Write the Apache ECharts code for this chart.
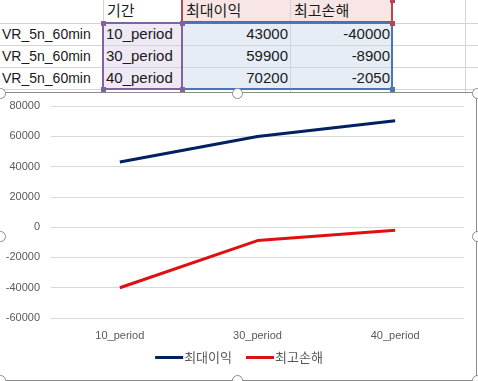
<!DOCTYPE html>
<html><head><meta charset="utf-8">
<script src="https://cdn.jsdelivr.net/npm/echarts@6/dist/echarts.min.js"></script>
<style>
html,body{margin:0;padding:0;width:478px;height:381px;overflow:hidden;background:#fff;font-family:"Liberation Sans","Noto Sans CJK KR",sans-serif;}
#sheet{position:absolute;left:0;top:0;width:478px;height:93px;}
.cell{position:absolute;font-size:15px;line-height:22px;color:#1a1a1a;white-space:nowrap;box-sizing:border-box;padding:0 2px;}
.hl{position:absolute;height:1px;background:#d4d4d4;}
.vl{position:absolute;width:1px;background:#d4d4d4;}
#chart{position:absolute;left:0;top:93px;width:478px;height:288px;}
.frame{position:absolute;border:1.5px solid #8c8c8c;}
.handle{position:absolute;width:11px;height:11px;border-radius:50%;border:1.5px solid #8c8c8c;background:#fff;box-sizing:border-box;}
.sq{position:absolute;width:5px;height:5px;}
</style></head>
<body>
<div id="sheet"></div>
<div id="chart"></div>
<script>
const strategy = ["VR_5n_60min","VR_5n_60min","VR_5n_60min"];
const periods = ["10_period","30_period","40_period"];
const seriesNames = ["최대이익","최고손해"];
const headerLabel = "기간";
const maxProfit = [43000,59900,70200];
const maxLoss = [-40000,-8900,-2050];

// spreadsheet
const sheet = document.getElementById('sheet');
function add(html){ sheet.insertAdjacentHTML('beforeend', html); }
const rowY = [0,23,45,67,89];
// fills
add('<div style="position:absolute;left:182px;top:0;width:210px;height:23px;background:#f8e5e5"></div>');
add('<div style="position:absolute;left:103px;top:23px;width:79px;height:66px;background:#eee9f4"></div>');
add('<div style="position:absolute;left:182px;top:23px;width:210px;height:66px;background:#e6edf7"></div>');
// grid lines
[23,45,67,89].forEach(y=>add('<div class="hl" style="left:0;top:'+y+'px;width:478px"></div>'));
[103,182,290,392,465].forEach(x=>add('<div class="vl" style="left:'+x+'px;top:0;height:93px"></div>'));
// header
add('<div class="cell" style="left:105px;top:0">'+headerLabel+'</div>');
add('<div class="cell" style="left:184px;top:0">'+seriesNames[0]+'</div>');
add('<div class="cell" style="left:292px;top:0">'+seriesNames[1]+'</div>');
for(let i=0;i<3;i++){
  const t = rowY[i+1];
  add('<div class="cell" style="left:0;top:'+t+'px;font-size:14px">'+strategy[i]+'</div>');
  add('<div class="cell" style="left:104px;top:'+t+'px">'+periods[i]+'</div>');
  add('<div class="cell" style="left:182px;top:'+t+'px;width:108px;text-align:right">'+maxProfit[i]+'</div>');
  add('<div class="cell" style="left:290px;top:'+t+'px;width:102px;text-align:right">'+maxLoss[i]+'</div>');
}
// selection borders
add('<div style="position:absolute;left:181px;top:-2px;width:212px;height:25px;border:2px solid #b4474f;box-sizing:border-box"></div>');
add('<div style="position:absolute;left:181px;top:22px;width:212px;height:68px;border:2px solid #4a76b8;box-sizing:border-box"></div>');
add('<div style="position:absolute;left:102px;top:22px;width:81px;height:68px;border:2px solid #8064a2;box-sizing:border-box"></div>');
[[101,21,'#8064a2'],[180,21,'#8064a2'],[101,87,'#8064a2'],[180,87,'#8064a2'],[390,-2,'#b4474f'],[390,21,'#b4474f'],[390,87,'#4a76b8']].forEach(p=>{
  add('<div class="sq" style="left:'+p[0]+'px;top:'+p[1]+'px;background:'+p[2]+'"></div>');
});

// chart
const chart = echarts.init(document.getElementById('chart'));
chart.setOption({
  backgroundColor:'#fff',
  animation:false,
  textStyle:{fontFamily:'"Liberation Sans","Noto Sans CJK KR",sans-serif'},
  grid:{left:51,right:14,top:13,bottom:63,containLabel:false},
  legend:{
    bottom:12,left:'center',itemWidth:28,itemHeight:3,itemGap:14,
    icon:'rect',
    textStyle:{color:'#595959',fontSize:13,padding:[0,0,0,-4],fontFamily:'"Noto Sans CJK KR",sans-serif'},
    data:seriesNames
  },
  xAxis:{
    type:'category',data:periods,boundaryGap:true,
    axisLine:{show:false},axisTick:{show:false},
    axisLabel:{color:'#595959',fontSize:11,margin:12}
  },
  yAxis:{
    type:'value',min:-60000,max:80000,interval:20000,
    axisLine:{show:false},axisTick:{show:false},
    axisLabel:{color:'#595959',fontSize:11,margin:11,formatter:function(v){return String(v);}},
    splitLine:{lineStyle:{color:'#d9d9d9',width:1}}
  },
  series:[
    {name:seriesNames[0],type:'line',data:maxProfit,symbol:'none',lineStyle:{color:'#002060',width:3},itemStyle:{color:'#002060'}},
    {name:seriesNames[1],type:'line',data:maxLoss,symbol:'none',lineStyle:{color:'#e01010',width:3},itemStyle:{color:'#e01010'}}
  ]
});

// chart frame and handles
document.body.insertAdjacentHTML('beforeend','<div class="frame" style="left:-1px;top:92px;width:478px;height:289px;box-sizing:border-box"></div>');
[[0,93],[237,93],[477,93],[0,236],[477,236],[0,380],[237,380],[477,380]].forEach(p=>{
  document.body.insertAdjacentHTML('beforeend','<div class="handle" style="left:'+(p[0]-5)+'px;top:'+(p[1]-5)+'px"></div>');
});
</script>
</body></html>
